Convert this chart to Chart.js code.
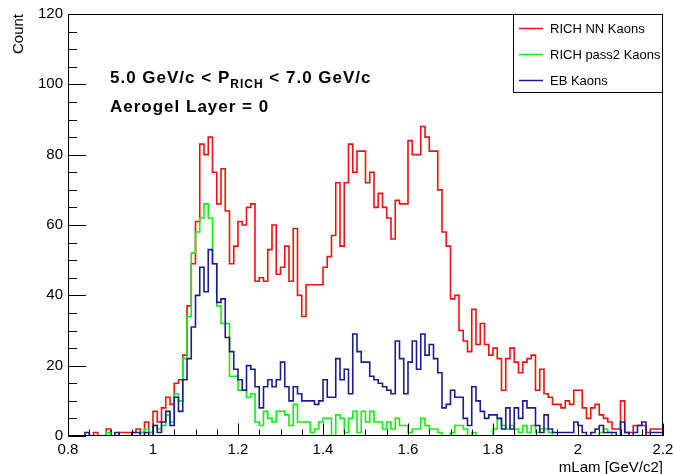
<!DOCTYPE html>
<html>
<head>
<meta charset="utf-8">
<script src="https://cdn.jsdelivr.net/npm/chart.js@4.4.1/dist/chart.umd.min.js"></script>
<style>
  html, body { margin: 0; padding: 0; background: #fff; }
  #wrap { width: 673px; height: 474px; }
</style>
</head>
<body>
<div id="wrap"><canvas id="chart-canvas" width="673" height="474"></canvas></div>
<script>
// histogram binning (0.8 - 2.2 GeV/c2, 140 bins)
const xMin = 0.8;
const xMax = 2.2;
const binWidth = 0.01;

const seriesNames = ["RICH NN Kaons", "RICH pass2 Kaons", "EB Kaons"];
const xTicks = [0.8, 1.0, 1.2, 1.4, 1.6, 1.8, 2.0, 2.2];
const yTicks = [0, 20, 40, 60, 80, 100, 120];

// counts per bin
const richNN = [
  0, 0, 0, 0, 0, 0, 0, 1, 0, 0,
  2, 0, 0, 1, 1, 1, 1, 2, 1, 4,
  1, 7, 4, 8, 11, 9, 15, 16, 23, 37,
  49, 61, 83, 80, 85, 75, 66, 76, 64, 49,
  54, 61, 60, 65, 66, 44, 45, 44, 53, 60,
  46, 48, 54, 44, 59, 40, 34, 43, 43, 43,
  43, 48, 51, 57, 72, 54, 72, 83, 75, 81,
  81, 72, 75, 65, 69, 65, 62, 56, 67, 66,
  66, 84, 80, 80, 88, 85, 81, 81, 70, 58,
  54, 39, 40, 30, 27, 24, 36, 26, 32, 26,
  23, 25, 22, 13, 22, 25, 21, 18, 21, 22,
  23, 13, 19, 12, 11, 9, 9, 8, 10, 9,
  13, 13, 8, 5, 8, 9, 6, 5, 4, 2,
  2, 10, 1, 1, 3, 3, 3, 1, 2, 2
];
const richPass2 = [
  0, 0, 0, 0, 0, 0, 0, 0, 0, 0,
  1, 0, 0, 0, 0, 0, 0, 0, 1, 2,
  1, 3, 2, 3, 6, 4, 12, 10, 22, 34,
  52, 58, 62, 66, 62, 49, 37, 32, 32, 17,
  17, 13, 13, 11, 12, 4, 3, 7, 5, 4,
  7, 7, 6, 3, 9, 4, 4, 4, 1, 2,
  4, 5, 5, 0, 6, 5, 1, 5, 7, 1,
  7, 4, 7, 4, 4, 2, 4, 2, 5, 3,
  3, 1, 2, 2, 5, 3, 2, 2, 1, 0,
  0, 1, 3, 3, 2, 0, 1, 0, 0, 0,
  0, 2, 5, 3, 2, 3, 2, 1, 3, 1,
  3, 1, 2, 2, 1, 0, 0, 0, 0, 0,
  0, 0, 0, 0, 0, 0, 1, 2, 1, 0,
  0, 0, 0, 0, 0, 0, 0, 0, 0, 0
];
const ebKaons = [
  0, 0, 0, 0, 0, 1, 0, 0, 0, 0,
  0, 0, 1, 0, 0, 0, 1, 1, 0, 1,
  0, 3, 1, 4, 7, 3, 11, 7, 16, 22,
  31, 40, 48, 41, 53, 49, 38, 39, 28, 24,
  19, 16, 13, 20, 19, 14, 8, 14, 16, 14,
  16, 21, 14, 10, 14, 12, 10, 10, 10, 9,
  10, 16, 11, 11, 22, 16, 19, 12, 29, 24,
  21, 21, 17, 16, 15, 14, 13, 12, 27, 22,
  12, 21, 27, 19, 29, 23, 26, 22, 18, 8,
  9, 13, 11, 11, 5, 3, 14, 10, 7, 5,
  6, 6, 5, 2, 8, 2, 8, 5, 10, 8,
  8, 3, 1, 6, 2, 1, 1, 1, 1, 1,
  4, 3, 1, 0, 1, 2, 3, 1, 1, 1,
  0, 4, 1, 0, 1, 3, 4, 0, 1, 1
];

const binEdges = Array.from({ length: richNN.length + 1 }, (_, i) => +(xMin + i * binWidth).toFixed(2));

// step outline: each bin value held from its low edge to the next edge
function toSteps(values) {
  const pts = values.map((v, i) => ({ x: binEdges[i], y: v }));
  pts.push({ x: binEdges[values.length], y: values[values.length - 1] });
  return pts;
}

const FONT = "'Liberation Sans', Arial, Helvetica, sans-serif";

// frame, inward ticks, axis titles, text and legend ROOT style
const rootDecor = {
  id: "rootDecor",
  afterDraw(chart) {
    const { ctx, chartArea: a, scales } = chart;
    const x = scales.x;
    const y = scales.y;
    ctx.save();

    ctx.strokeStyle = "#000";
    ctx.lineWidth = 1;
    ctx.strokeRect(a.left + 0.5, a.top + 0.5, a.right - a.left - 1, a.bottom - a.top - 1);

    ctx.beginPath();
    for (let v = 0; v <= 120; v += 5) {
      const py = Math.round(y.getPixelForValue(v)) + 0.5;
      const len = v % 20 === 0 ? 18 : 9;
      ctx.moveTo(a.left, py);
      ctx.lineTo(a.left + len, py);
    }
    for (let i = 0; i <= 28; i++) {
      const px = Math.round(x.getPixelForValue(xMin + i * 0.05)) + 0.5;
      const len = i % 4 === 0 ? 12.5 : 6.5;
      ctx.moveTo(px, a.bottom);
      ctx.lineTo(px, a.bottom - len);
    }
    ctx.stroke();

    // axis titles
    ctx.fillStyle = "#000";
    ctx.font = "15px " + FONT;
    ctx.textAlign = "right";
    ctx.textBaseline = "alphabetic";
    ctx.fillText("mLam [GeV/c2]", a.right, 472);
    ctx.save();
    ctx.translate(23, a.top);
    ctx.rotate(-Math.PI / 2);
    ctx.fillText("Count", 0, 0);
    ctx.restore();

    // annotation text
    ctx.textAlign = "left";
    ctx.letterSpacing = "1px";
    const big = "bold 17px " + FONT;
    const sub = "bold 12px " + FONT;
    let tx = 110;
    const parts = [["5.0 GeV/c < P", big, 0], ["RICH", sub, 5], [" < 7.0 GeV/c", big, 0]];
    parts.forEach(([t, f, dy]) => {
      ctx.font = f;
      ctx.fillText(t, tx, 83 + dy);
      tx += ctx.measureText(t).width;
    });
    ctx.font = big;
    ctx.fillText("Aerogel Layer = 0", 110, 112);
    ctx.letterSpacing = "0px";

    // legend box
    const lx = a.right - 150, ly = a.top, lw = 150, lh = 79;
    ctx.fillStyle = "#fff";
    ctx.fillRect(lx, ly, lw, lh);
    ctx.strokeStyle = "#000";
    ctx.strokeRect(lx + 0.5, ly + 0.5, lw - 1, lh - 1);
    ctx.font = "13px " + FONT;
    ctx.textBaseline = "middle";
    chart.data.datasets.forEach((ds, i) => {
      const cy = ly + 14 + i * 26;
      ctx.strokeStyle = ds.borderColor;
      ctx.lineWidth = 1.5;
      ctx.beginPath();
      ctx.moveTo(lx + 6, cy + 0.5);
      ctx.lineTo(lx + 30, cy + 0.5);
      ctx.stroke();
      ctx.fillStyle = "#000";
      ctx.fillText(ds.label, lx + 37, cy + 1);
    });
    ctx.restore();
  }
};

const seriesValues = [richNN, richPass2, ebKaons];
const seriesColors = ["#ee1111", "#11ee11", "#1c1c8c"];
const drawOrder = [2, 1, 0];

const ctx = document.getElementById("chart-canvas").getContext("2d");
const myChart = new Chart(ctx, {
  type: "line",
  data: {
    datasets: seriesValues.map((vals, i) => ({
      label: seriesNames[i],
      data: toSteps(vals),
      borderColor: seriesColors[i],
      borderWidth: 1.6,
      pointRadius: 0,
      stepped: "after",
      fill: false,
      order: drawOrder[i],
    })),
  },
  options: {
    responsive: false,
    animation: false,
    layout: { padding: { left: 0, right: 10, top: 14, bottom: 0 } },
    plugins: {
      legend: { display: false },
      tooltip: { enabled: false },
    },
    scales: {
      x: {
        type: "linear",
        min: xMin,
        max: xMax,
        grid: { display: false, drawTicks: false },
        border: { display: false },
        afterBuildTicks: (s) => { s.ticks = xTicks.map((v) => ({ value: v })); },
        ticks: {
          color: "#000",
          font: { family: FONT, size: 15 },
          padding: 5,
          maxRotation: 0,
          autoSkip: false,
          callback: (v) => String(+v.toFixed(2)),
        },
        afterFit: (s) => { s.height = 38; s.paddingLeft = 0; s.paddingRight = 0; },
      },
      y: {
        min: 0,
        max: 120,
        grid: { display: false, drawTicks: false },
        border: { display: false },
        afterBuildTicks: (s) => { s.ticks = yTicks.map((v) => ({ value: v })); },
        ticks: {
          color: "#000",
          font: { family: FONT, size: 15 },
          padding: 5,
          autoSkip: false,
        },
        afterFit: (s) => { s.width = 68; s.paddingTop = 0; s.paddingBottom = 0; },
      },
    },
  },
  plugins: [rootDecor],
});
</script>
</body>
</html>
